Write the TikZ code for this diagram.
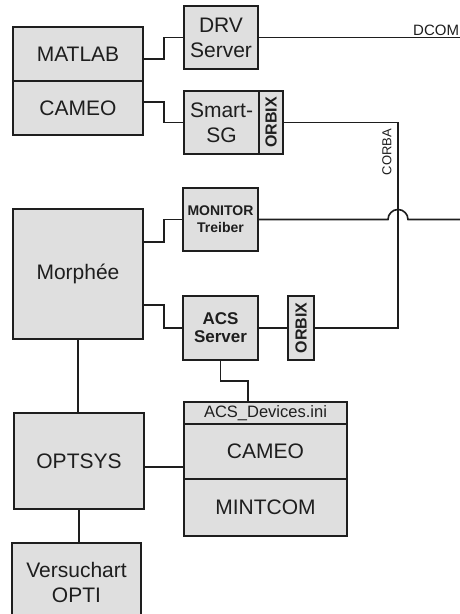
\documentclass[tikz,border=0pt]{standalone}
\usepackage{fontspec}
\setmainfont{Liberation Sans}
\usepackage{graphicx}
\definecolor{boxfill}{RGB}{223,223,223}
\definecolor{ink}{RGB}{30,30,30}
\begin{document}
\begin{tikzpicture}[x=1pt,y=-1pt,
  box/.style={draw=ink, fill=boxfill, line width=1.8pt, inner sep=0pt, align=center,
              text=ink, font=\fontsize{21}{25}\selectfont},
  smallbold/.style={font=\fontsize{14}{17}\selectfont\bfseries},
  midbold/.style={font=\fontsize{17}{18}\selectfont\bfseries},
  conn/.style={draw=ink, line width=1.6pt},
  lbl/.style={text=ink, inner sep=0pt, font=\fontsize{14}{16}\selectfont}]
\useasboundingbox (0,0) rectangle (460,614);
\clip (0,0) rectangle (460,614);

% upper left stack
\node[box, minimum width=130, minimum height=54] (matlab) at (78,54) {MATLAB};
\node[box, minimum width=130, minimum height=54] (cameo) at (78,108) {CAMEO};
% DRV server
\node[box, minimum width=74, minimum height=63] (drv) at (221,37.5) {DRV\\Server};
% Smart-SG + ORBIX
\node[box, minimum width=75, minimum height=63] (smart) at (221.5,122.5) {Smart-\\SG};
\node[box, minimum width=24, minimum height=63, font=\fontsize{16}{16}\selectfont\bfseries] (orbixa) at (271,122.5) {\rotatebox{90}{ORBIX}};
% Morphee
\node[box, minimum width=130, minimum height=130] (morphee) at (78,274) {Morphée};
% MONITOR
\node[box, smallbold, minimum width=75, minimum height=63] (monitor) at (220.5,219.5) {MONITOR\\Treiber};
% ACS server
\node[box, midbold, minimum width=75, minimum height=64] (acs) at (220.5,328) {ACS\\Server};
\node[box, minimum width=26, minimum height=64, font=\fontsize{16}{16}\selectfont\bfseries] (orbixb) at (301,328) {\rotatebox{90}{ORBIX}};
% OPTSYS
\node[box, minimum width=130, minimum height=96] (optsys) at (79,461) {OPTSYS};
% ACS_Devices stack
\node[box, minimum width=163, minimum height=22, font=\fontsize{16.5}{18}\selectfont] (acsini) at (265.5,413) {ACS\_Devices.ini};
\node[box, minimum width=163, minimum height=55] (cameob) at (265.5,451.5) {CAMEO};
\node[box, minimum width=163, minimum height=57] (mintcom) at (265.5,507.5) {MINTCOM};
% Versuchart
\node[box, minimum width=129, minimum height=79] (versuch) at (76.5,582.5) {Versuchart\\OPTI};

% labels
\node[lbl, font=\fontsize{15}{16}\selectfont, anchor=base west] (dcom) at (413,35) {DCOM};
\node[lbl, font=\fontsize{13}{14}\selectfont, rotate=90] (corba) at (387,152) {CORBA};

% coordinates
\coordinate (dcomend) at (460,37.5);
\coordinate (monend) at (460,219.5);
\coordinate (bridgeL) at (388,219.5);
\coordinate (corbatop) at (398,122.5);
\coordinate (acsturn) at (248,381);

% connectors
\draw[conn] ([yshift=-5pt]matlab.east) -- ++(20,0) |- (drv.west);
\draw[conn] ([yshift=6pt]cameo.east) -- ++(20,0) |- (smart.west);
\draw[conn] (drv.east) -- (dcomend);
\draw[conn] (orbixa.east) -- (corbatop) -- (corbatop |- orbixb.east) -- (orbixb.east);
\draw[conn] (monitor.east) -- (bridgeL) arc[start angle=180, end angle=360, radius=10] -- (monend);
\draw[conn] ([yshift=32pt]morphee.east) -- ++(20,0) |- (monitor.west);
\draw[conn] ([yshift=-31pt]morphee.east) -- ++(20,0) |- (acs.west);
\draw[conn] (acs.east) -- (orbixb.west);
\draw[conn] (acs.south) |- (acsturn) -- (acsturn |- acsini.north);
\draw[conn] (morphee.south) -- (morphee.south |- optsys.north);
\draw[conn] ([yshift=-6pt]optsys.east) -- ([yshift=-6pt]optsys.east -| cameob.west);
\draw[conn] (optsys.south) -- (optsys.south |- versuch.north);
\end{tikzpicture}
\end{document}
